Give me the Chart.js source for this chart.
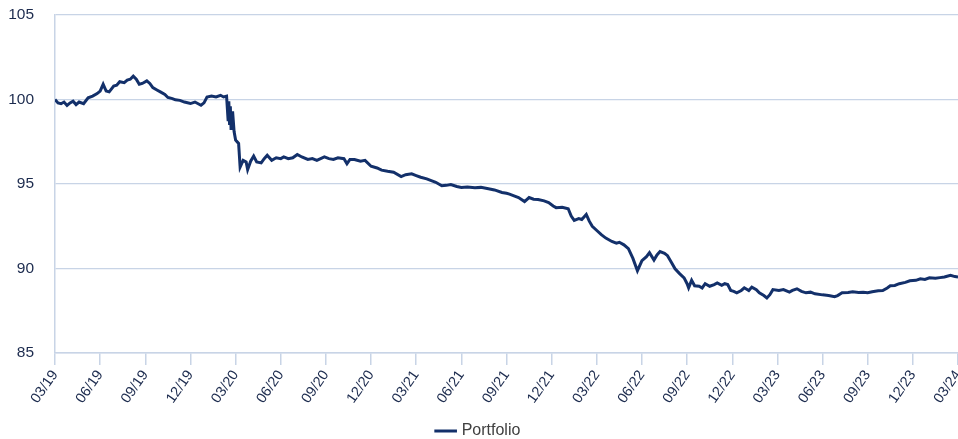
<!DOCTYPE html>
<html>
<head>
<meta charset="utf-8">
<script src="https://cdn.jsdelivr.net/npm/chart.js@4/dist/chart.umd.min.js"></script>
<style>
  html, body { margin: 0; padding: 0; background: #fff; overflow: hidden; }
  #wrap { width: 958px; height: 439px; position: relative; }
</style>
</head>
<body>
<div id="wrap"><canvas id="portfolioChart"></canvas></div>
<script>
// quarter labels on the x axis (one every 3 months from 03/19)
var tickLabels = ['03/19', '06/19', '09/19', '12/19', '03/20', '06/20', '09/20', '12/20',
    '03/21', '06/21', '09/21', '12/21', '03/22', '06/22', '09/22', '12/22',
    '03/23', '06/23', '09/23', '12/23', '03/24'];

// months since 03/19
var months = [0, 0.2, 0.4, 0.6, 0.8, 1.0, 1.2, 1.4, 1.6, 1.9, 2.2, 2.5, 2.8, 3.0, 3.2, 3.4, 3.6, 3.9,
    4.1, 4.3, 4.6, 4.8, 5.0, 5.2, 5.4, 5.6, 5.8, 6.1, 6.3, 6.5, 6.8, 7.0, 7.3, 7.5, 7.8, 8.0, 8.3,
    8.6, 9.0, 9.3, 9.7, 9.9, 10.1, 10.4, 10.7, 11.0, 11.2, 11.4, 11.5, 11.55, 11.6, 11.65, 11.7,
    11.8, 11.9, 12.0, 12.2, 12.3, 12.5, 12.7, 12.8, 13.0, 13.2, 13.4, 13.7, 13.9, 14.1, 14.4, 14.7,
    15.0, 15.2, 15.5, 15.8, 16.1, 16.4, 16.8, 17.1, 17.4, 17.9, 18.2, 18.5, 18.8, 19.2, 19.4, 19.6,
    19.9, 20.3, 20.6, 21.0, 21.4, 21.7, 22.1, 22.5, 23.0, 23.3, 23.7, 24.0, 24.3, 24.7, 25.0, 25.3,
    25.7, 26.0, 26.3, 26.7, 27.0, 27.4, 27.9, 28.3, 28.8, 29.2, 29.7, 30.0, 30.2, 30.5, 30.8, 31.2,
    31.5, 31.8, 32.1, 32.5, 32.8, 33.1, 33.3, 33.7, 34.1, 34.3, 34.5, 34.8, 35.0, 35.3, 35.5, 35.7,
    36.0, 36.3, 36.6, 37.0, 37.3, 37.5, 37.8, 38.1, 38.4, 38.7, 39.0, 39.3, 39.5, 39.8, 40.0, 40.2,
    40.5, 40.7, 41.0, 41.2, 41.5, 41.8, 42.0, 42.1, 42.3, 42.5, 42.8, 43.0, 43.2, 43.5, 43.8, 44.0,
    44.3, 44.5, 44.7, 44.9, 45.1, 45.3, 45.6, 45.8, 46.1, 46.3, 46.6, 46.8, 47.1, 47.3, 47.5, 47.7,
    48.1, 48.4, 48.8, 49.0, 49.3, 49.6, 49.9, 50.2, 50.5, 51.0, 51.4, 51.8, 52.0, 52.3, 52.7, 53.0,
    53.4, 53.7, 54.0, 54.3, 54.7, 55.0, 55.3, 55.5, 55.8, 56.1, 56.5, 56.8, 57.2, 57.5, 57.8, 58.1,
    58.5, 58.8, 59.1, 59.5, 59.8, 60.0];

var portfolio = [100.0, 99.8, 99.75, 99.85, 99.65, 99.8, 99.9, 99.7, 99.85, 99.75, 100.1, 100.2,
    100.35, 100.5, 100.9, 100.5, 100.45, 100.8, 100.85, 101.05, 101.0, 101.15, 101.2, 101.38, 101.2,
    100.9, 100.95, 101.1, 100.95, 100.7, 100.55, 100.45, 100.3, 100.12, 100.05, 99.98, 99.95, 99.85,
    99.76, 99.85, 99.66, 99.8, 100.15, 100.2, 100.15, 100.25, 100.15, 100.2, 98.8, 99.9, 98.5, 99.6,
    98.2, 99.3, 98.1, 97.6, 97.4, 96.0, 96.4, 96.3, 95.85, 96.35, 96.65, 96.3, 96.25, 96.5, 96.7,
    96.4, 96.55, 96.5, 96.6, 96.5, 96.55, 96.75, 96.6, 96.45, 96.5, 96.4, 96.6, 96.5, 96.45, 96.55,
    96.5, 96.2, 96.45, 96.45, 96.35, 96.4, 96.05, 95.95, 95.82, 95.75, 95.7, 95.44, 95.55, 95.6,
    95.5, 95.4, 95.3, 95.2, 95.1, 94.9, 94.92, 94.97, 94.85, 94.8, 94.82, 94.78, 94.8, 94.72, 94.65,
    94.5, 94.45, 94.4, 94.3, 94.2, 93.96, 94.2, 94.1, 94.08, 94.0, 93.9, 93.7, 93.6, 93.62, 93.54,
    93.1, 92.85, 92.95, 92.9, 93.2, 92.8, 92.5, 92.25, 92.0, 91.8, 91.6, 91.5, 91.55, 91.4, 91.17,
    90.6, 89.87, 90.46, 90.7, 90.94, 90.5, 90.8, 91.0, 90.9, 90.76, 90.3, 89.98, 89.7, 89.45, 89.1,
    88.86, 89.3, 88.98, 88.95, 88.85, 89.1, 88.95, 89.05, 89.15, 89.0, 89.1, 89.05, 88.7, 88.65,
    88.56, 88.7, 88.86, 88.7, 88.9, 88.75, 88.56, 88.4, 88.26, 88.45, 88.75, 88.7, 88.75, 88.6,
    88.7, 88.8, 88.65, 88.56, 88.6, 88.5, 88.44, 88.4, 88.33, 88.4, 88.56, 88.58, 88.62, 88.58,
    88.6, 88.56, 88.62, 88.68, 88.7, 88.85, 88.98, 89.0, 89.1, 89.18, 89.27, 89.3, 89.39, 89.35,
    89.45, 89.42, 89.46, 89.5, 89.6, 89.52, 89.5];

var points = months.map(function (m, i) {
    return { x: m, y: portfolio[i] };
});

var gridColor = '#c8d4e6';
var textColor = '#1c2b4e';
var fontFamily = 'Liberation Sans, Arial, sans-serif';

var ctx = document.getElementById('portfolioChart').getContext('2d');
var portfolioChart = new Chart(ctx, {
    type: 'line',
    data: {
        datasets: [{
            label: 'Portfolio',
            data: points,
            borderColor: '#13306a',
            backgroundColor: '#13306a',
            borderWidth: 3,
            pointRadius: 0,
            tension: 0
        }]
    },
    options: {
        responsive: true,
        maintainAspectRatio: false,
        animation: false,
        layout: {
            padding: { top: 15, right: 0, left: 0, bottom: -10 }
        },
        scales: {
            x: {
                type: 'linear',
                min: 0,
                max: 60,
                grid: {
                    drawOnChartArea: false,
                    drawTicks: true,
                    tickLength: 12,
                    color: gridColor,
                    lineWidth: 1.5
                },
                border: { color: gridColor, width: 1.5 },
                ticks: {
                    stepSize: 3,
                    autoSkip: false,
                    maxTicksLimit: 30,
                    minRotation: 55,
                    maxRotation: 55,
                    padding: 2,
                    color: textColor,
                    font: { family: fontFamily, size: 14.5 },
                    callback: function (value) {
                        return tickLabels[Math.round(value / 3)];
                    }
                },
                afterFit: function (scale) {
                    scale.height = 60;
                    scale.paddingLeft = 0;
                    scale.paddingRight = 0;
                }
            },
            y: {
                min: 85,
                max: 105,
                grid: {
                    drawTicks: false,
                    color: gridColor,
                    lineWidth: 1.2
                },
                border: { color: gridColor, width: 1.5 },
                ticks: {
                    stepSize: 5,
                    padding: 21,
                    color: textColor,
                    font: { family: fontFamily, size: 15.5 }
                },
                afterFit: function (scale) {
                    scale.width = 55;
                    scale.paddingTop = 0;
                    scale.paddingBottom = 0;
                }
            }
        },
        plugins: {
            legend: {
                position: 'bottom',
                labels: {
                    usePointStyle: true,
                    pointStyle: 'line',
                    boxWidth: 23,
                    padding: 10,
                    color: '#404040',
                    font: { family: fontFamily, size: 16 }
                }
            },
            tooltip: { enabled: false }
        }
    }
});
</script>
</body>
</html>
